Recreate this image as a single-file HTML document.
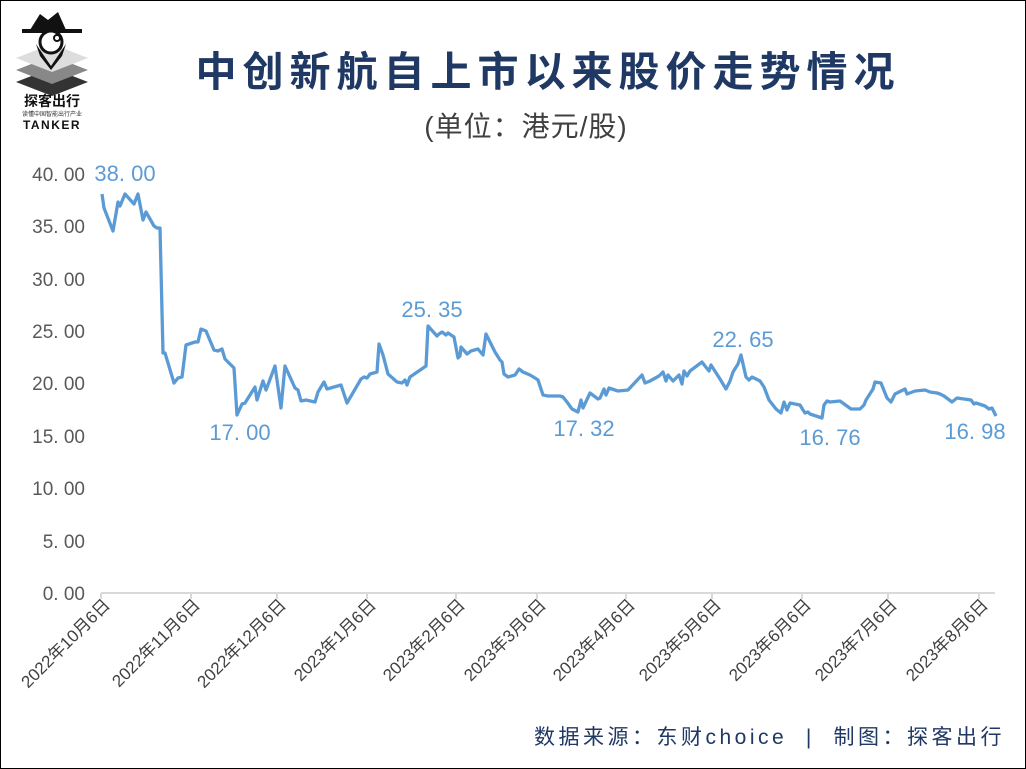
<!DOCTYPE html><html><head><meta charset="utf-8"><style>
html,body{margin:0;padding:0;background:#fff}
svg{display:block}
text{font-family:"Liberation Sans","Noto Sans CJK SC",sans-serif}
</style></head><body>
<svg width="1026" height="769" viewBox="0 0 1026 769">
<rect x="0.5" y="0.5" width="1025" height="768" fill="#fff" stroke="#000"/>
<g>
<polygon points="52,68 88,82 52,96 16,82" fill="#333"/>
<polygon points="52,56 88,70 52,84 16,70" fill="#888"/>
<polygon points="52,44 88,58 52,72 16,58" fill="#ddd"/>
<polygon points="30,30 40,14 48,20 58,12 66,30" fill="#111"/>
<rect x="22" y="29" width="60" height="4" fill="#111"/>
<circle cx="51" cy="42" r="11" fill="#fff" stroke="#111" stroke-width="3"/>
<circle cx="57" cy="38" r="3" fill="none" stroke="#111" stroke-width="2"/>
<polygon points="36,44 51,66 66,44 62,56 51,70 40,56" fill="#111"/>
<text x="52" y="106" font-size="14" font-weight="bold" text-anchor="middle" fill="#111">探客出行</text>
<text x="52" y="116" font-size="6" text-anchor="middle" fill="#333">读懂中国智能出行产业</text>
<text x="52" y="129" font-size="12" font-weight="bold" text-anchor="middle" fill="#111" letter-spacing="1.5">TANKER</text>
</g>
<text x="548" y="86" font-size="41" font-weight="bold" text-anchor="middle" fill="#1f3864" letter-spacing="6">中创新航自上市以来股价走势情况</text>
<text x="526" y="136" font-size="28" text-anchor="middle" fill="#404040" letter-spacing="1">(单位：港元/股)</text>
<g font-size="19" fill="#595959" text-anchor="end">
<text x="85" y="600">0. 00</text>
<text x="85" y="548">5. 00</text>
<text x="85" y="495">10. 00</text>
<text x="85" y="443">15. 00</text>
<text x="85" y="390">20. 00</text>
<text x="85" y="338">25. 00</text>
<text x="85" y="286">30. 00</text>
<text x="85" y="233">35. 00</text>
<text x="85" y="181">40. 00</text>
</g>
<line x1="101" y1="593" x2="995" y2="593" stroke="#d9d9d9" stroke-width="2"/>
<g stroke="#d9d9d9" stroke-width="2">
<line x1="101" y1="593" x2="101" y2="599"/><line x1="191" y1="593" x2="191" y2="599"/><line x1="277" y1="593" x2="277" y2="599"/><line x1="367" y1="593" x2="367" y2="599"/><line x1="456" y1="593" x2="456" y2="599"/><line x1="537" y1="593" x2="537" y2="599"/><line x1="626" y1="593" x2="626" y2="599"/><line x1="712" y1="593" x2="712" y2="599"/><line x1="802" y1="593" x2="802" y2="599"/><line x1="888" y1="593" x2="888" y2="599"/><line x1="979" y1="593" x2="979" y2="599"/>
</g>
<g font-size="17" fill="#404040" text-anchor="end">
<text transform="translate(111,606) rotate(-45)">2022年10月6日</text>
<text transform="translate(201,606) rotate(-45)">2022年11月6日</text>
<text transform="translate(287,606) rotate(-45)">2022年12月6日</text>
<text transform="translate(377,606) rotate(-45)">2023年1月6日</text>
<text transform="translate(466,606) rotate(-45)">2023年2月6日</text>
<text transform="translate(547,606) rotate(-45)">2023年3月6日</text>
<text transform="translate(636,606) rotate(-45)">2023年4月6日</text>
<text transform="translate(722,606) rotate(-45)">2023年5月6日</text>
<text transform="translate(812,606) rotate(-45)">2023年6月6日</text>
<text transform="translate(898,606) rotate(-45)">2023年7月6日</text>
<text transform="translate(989,606) rotate(-45)">2023年8月6日</text>
</g>
<polyline fill="none" stroke="#5b9bd5" stroke-width="3.3" stroke-linejoin="round" points="102,194 104,208 113,231 118,202 120,206 125,194 134,204 138,194 143,220 146,212 154,226 157,228 160,228 163,353 165,353 174,383 178,378 182,377 186,345 195,342 198,342 201,329 206,331 214,350 218,351 222,349 225,359 234,368 237,415 242,404 245,403 255,387 257,400 263,381 266,390 275,366 281,408 285,366 295,388 298,390 301,401 306,400 315,402 318,392 324,382 327,389 341,385 347,403 361,379 364,377 367,378 370,374 377,372 379,344 383,355 388,374 397,382 402,383 405,380 407,385 410,377 426,366 428,326 437,336 439,334 442,332 446,335 448,333 454,337 458,358 460,356 461,347 467,354 471,351 478,349 483,355 486,334 495,352 500,360 502,362 504,374 508,377 515,375 519,369 523,372 530,375 535,378 538,380 543,395 548,396 560,396 563,397 567,402 572,409 578,412 581,400 583,408 590,393 598,399 600,398 604,389 606,395 609,388 618,391 628,390 642,375 645,383 650,381 659,376 663,372 666,381 668,375 673,381 679,375 682,384 684,371 687,376 690,371 702,362 705,366 709,371 711,365 720,379 726,389 730,381 733,372 738,364 741,355 746,377 749,380 752,377 760,381 764,387 769,400 776,409 781,413 784,402 787,410 790,403 800,405 803,410 805,413 808,412 810,414 822,418 824,405 827,401 830,402 840,401 851,409 853,409 860,409 864,405 866,400 873,389 875,382 881,383 887,398 891,402 895,394 905,389 907,394 915,391 925,390 930,392 937,393 940,394 944,396 952,402 957,398 971,400 974,404 976,403 985,406 989,409 992,408 996,416"/>
<g font-size="22" fill="#5b9bd5" text-anchor="middle">
<text x="125" y="181">38. 00</text>
<text x="240" y="440">17. 00</text>
<text x="432" y="317">25. 35</text>
<text x="584" y="436">17. 32</text>
<text x="743" y="347">22. 65</text>
<text x="830" y="445">16. 76</text>
<text x="975" y="439">16. 98</text>
</g>
<text x="1005" y="744" font-size="21" text-anchor="end" fill="#1f3864" letter-spacing="3.5" xml:space="preserve">数据来源：东财choice  |  制图：探客出行</text>
</svg>
</body></html>
